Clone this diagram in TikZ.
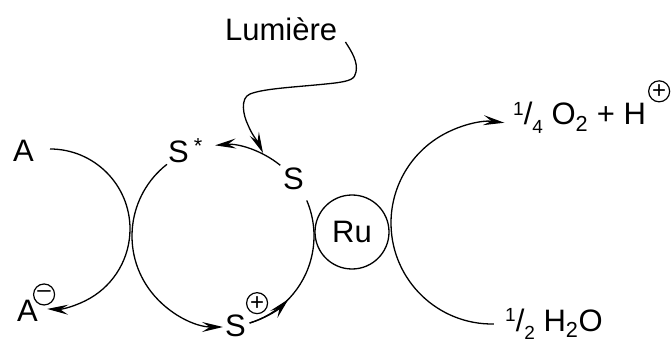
\documentclass[tikz,border=0pt]{standalone}
\usepackage{fontspec}
\setmainfont{Liberation Sans}
\usetikzlibrary{arrows.meta,calc,positioning}
\newcommand{\qfrac}[2]{\raisebox{0.3em}{\fontsize{19}{19}\selectfont #1}/\raisebox{-0.28em}{\fontsize{19}{19}\selectfont #2}}

\begin{document}
\begin{tikzpicture}[x=1pt,y=1pt,>={Stealth[length=21pt,width=10pt,inset=8pt]}]
        \tikzset{lbl/.style={inner sep=0pt,font=\fontsize{31}{31}\selectfont},
        chg/.style={draw,circle,line width=1.2pt,minimum size=21pt,inner sep=0pt,font=\fontsize{24}{24}\selectfont},
        metal/.style={draw,circle,line width=1.3pt,minimum size=74pt,inner sep=0pt,font=\fontsize{31}{31}\selectfont},
        arcline/.style={line width=1.3pt},
        }
        \useasboundingbox (0,0) rectangle (671,340);
        \coordinate (lc) at (50,111);
        \coordinate (mc) at (223,104);
        \coordinate (rc) at (492,117);
        \node [metal] (ru) at (352,108) {Ru};
        \node [lbl, anchor=base west] (lum) at (225,299) {Lumière};
        \node [lbl, anchor=base west] (a) at (13,178) {A};
        \node [lbl, anchor=base west] (sst) at (168,177) {S\textsuperscript{\kern5pt*}};
        \node [lbl, anchor=base west] (s) at (283,150) {S};
        \node [lbl, anchor=base west] (am) at (17,19) {A};
        \node [chg] (amc) at ($(am.north east)+(6,5)$) {–};
        \node [lbl, anchor=base west] (sp) at (225,4) {S};
        \node [chg] (spc) at ($(sp.north east)+(11,11)$) {+};
        \node [lbl, anchor=base west] (ox) at (513,215) {\qfrac{1}{4} O\textsubscript{2} + H};
        \node [chg] (hc) at ($(ox.north east)+(13,11)$) {+};
        \node [lbl, anchor=base west] (wat) at (505,9) {\qfrac{1}{2} H\textsubscript{2}O};
        \coordinate (w0) at ($(lum.base east)+(8,-1)$);
        \coordinate (w1) at (263,187);
%%% paths
        \draw[arcline,->] ($(lc)+(90:80)$) arc[start angle=90,end angle=-92,radius=80pt];
        \draw[arcline,->] ($(mc)+(128:91)$) arc[start angle=128,end angle=270,radius=91pt];
        \draw[arcline] ($(mc)+(-73:91)$) arc[start angle=-73,end angle=23,radius=91pt];
        \draw[arcline,->] ($(mc)+(-73:91)$) arc[start angle=-73,end angle=-44,radius=91pt];
        \draw[arcline,->] ($(mc)+(51:91)$) arc[start angle=51,end angle=95,radius=91pt];
        \draw[arcline,->] ($(rc)+(271:101)$) arc[start angle=271,end angle=83,radius=101pt];
        \draw[arcline,->] (w0) .. controls (352,288) and (358,278) .. (356,268)
                .. controls (355,261) and (350,259) .. (335,257)
                .. controls (300,253) and (265,252) .. (250,246)
                .. controls (240,242) and (243,225) .. (248,215)
                .. controls (252,205) and (258,198) .. (w1);
\end{tikzpicture}
\end{document}
